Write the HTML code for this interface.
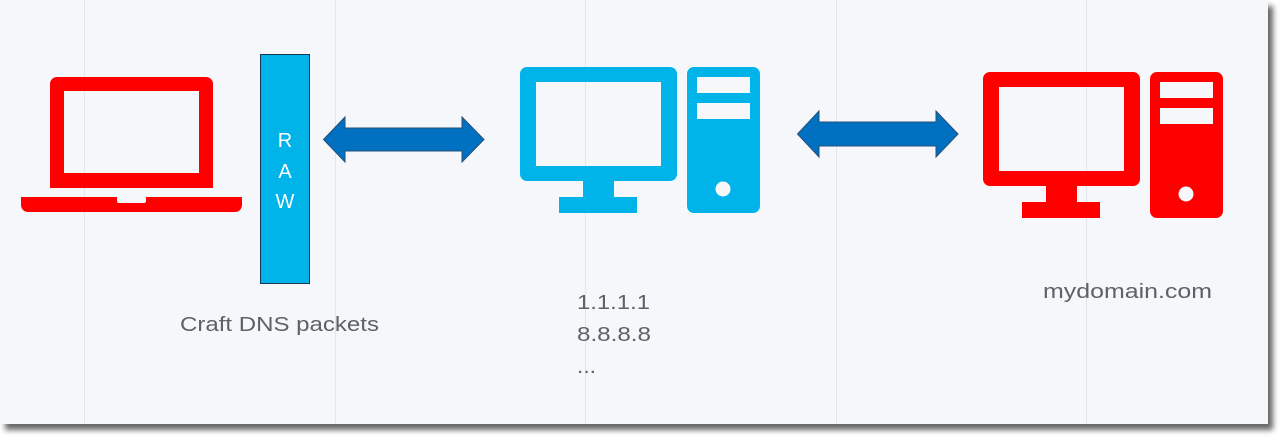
<!DOCTYPE html>
<html><head><style>
html,body{margin:0;padding:0;background:#fff;width:1283px;height:439px;overflow:hidden}
svg{display:block}
text{font-family:"Liberation Sans",sans-serif}
</style></head><body>
<svg width="1283" height="439" viewBox="0 0 1283 439" xmlns="http://www.w3.org/2000/svg">
<defs><filter id="sh" x="-2%" y="-2%" width="105%" height="110%"><feGaussianBlur in="SourceAlpha" stdDeviation="3"/><feOffset dx="5" dy="6"/><feComponentTransfer><feFuncA type="linear" slope="0.6"/></feComponentTransfer><feMerge><feMergeNode/><feMergeNode in="SourceGraphic"/></feMerge></filter></defs>
<rect x="0" y="0" width="1268" height="424" fill="#f6f7fb" filter="url(#sh)"/>
<g stroke="#e3e5ea" stroke-width="1">
<line x1="84.5" y1="0" x2="84.5" y2="424"/><line x1="335.5" y1="0" x2="335.5" y2="424"/><line x1="585.5" y1="0" x2="585.5" y2="424"/><line x1="836.5" y1="0" x2="836.5" y2="424"/><line x1="1086.5" y1="0" x2="1086.5" y2="424"/>
</g>
<path fill="#ff0000" fill-rule="evenodd" d="M57 77H206a7 7 0 0 1 7 7V188H50V84a7 7 0 0 1 7-7ZM64 91V173H199V91Z"/>
<path fill="#ff0000" d="M21 197H117v4a2 2 0 0 0 2 2H144a2 2 0 0 0 2-2V197H242v8a7 7 0 0 1-7 7H28a7 7 0 0 1-7-7Z"/>
<rect x="260.5" y="54.5" width="49" height="229" fill="#00b4ea" stroke="#1b3553" stroke-width="1"/>
<g fill="#fff" font-size="20" text-anchor="middle"><text x="285" y="147">R</text><text x="285" y="178">A</text><text x="285" y="208">W</text></g>
<path fill="#0070c0" stroke="#234f78" stroke-width="1" d="M323.5 139.5L345 117V128H462V117L484 139.5L462 162V151H345V162Z"/>
<path fill="#0070c0" stroke="#234f78" stroke-width="1" d="M797.5 134L819 111V122H936V111L958 134L936 157V146H819V157Z"/>
<g fill="#00b4ea">
<path fill-rule="evenodd" d="M527 67H670a7 7 0 0 1 7 7V174a7 7 0 0 1-7 7H527a7 7 0 0 1-7-7V74a7 7 0 0 1 7-7ZM536 82V166H661V82Z"/>
<rect x="583" y="180" width="31" height="18"/><rect x="559" y="197" width="78" height="16"/>
<path fill-rule="evenodd" d="M694 67H753a7 7 0 0 1 7 7V206a7 7 0 0 1-7 7H694a7 7 0 0 1-7-7V74a7 7 0 0 1 7-7ZM697 77V93H750V77ZM697 103V119H750V103Z"/>
</g>
<circle cx="723" cy="189" r="7.5" fill="#f6f7fb"/>
<g fill="#ff0000" transform="translate(463,5)">
<path fill-rule="evenodd" d="M527 67H670a7 7 0 0 1 7 7V174a7 7 0 0 1-7 7H527a7 7 0 0 1-7-7V74a7 7 0 0 1 7-7ZM536 82V166H661V82Z"/>
<rect x="583" y="180" width="31" height="18"/><rect x="559" y="197" width="78" height="16"/>
<path fill-rule="evenodd" d="M694 67H753a7 7 0 0 1 7 7V206a7 7 0 0 1-7 7H694a7 7 0 0 1-7-7V74a7 7 0 0 1 7-7ZM697 77V93H750V77ZM697 103V119H750V103Z"/>
<circle cx="723" cy="189" r="7.5" fill="#f6f7fb"/>
</g>
<g fill="#5f6167" font-size="20">
<text x="180" y="331" textLength="199" lengthAdjust="spacingAndGlyphs">Craft DNS packets</text>
<text x="577" y="309" textLength="73" lengthAdjust="spacingAndGlyphs">1.1.1.1</text>
<text x="577" y="341" textLength="74" lengthAdjust="spacingAndGlyphs">8.8.8.8</text>
<text x="577" y="373" textLength="19" lengthAdjust="spacingAndGlyphs">...</text>
<text x="1043" y="298" textLength="169" lengthAdjust="spacingAndGlyphs">mydomain.com</text>
</g>
</svg>
</body></html>
